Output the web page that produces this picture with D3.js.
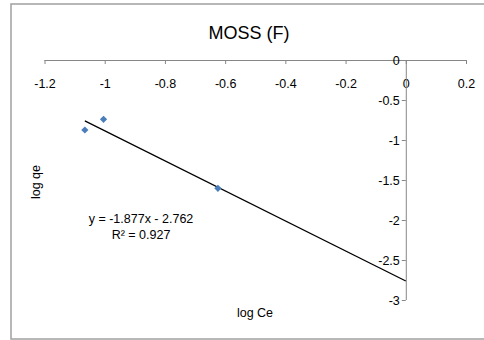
<!DOCTYPE html>
<html>
<head>
<meta charset="utf-8">
<script src="https://cdn.jsdelivr.net/npm/d3@7"></script>
<style>
  body { margin: 0; background: #fff; }
  svg { display: block; font-family: "Liberation Sans", Arial, sans-serif; }
  .axis path, .axis line { stroke: #868686; }
  .axis text { fill: #000; font-size: 12.5px; }
</style>
</head>
<body>
<script>
// log Ce / log qe points
const logCe = [-1.066, -1.004, -0.624];
const logQe = [-0.875, -0.741, -1.604];

// axis ticks
const xTicks = [-1.2, -1, -0.8, -0.6, -0.4, -0.2, 0, 0.2];
const yTicks = [0, -0.5, -1, -1.5, -2, -2.5, -3];

// linear trendline from the chart
const slope = -1.877, intercept = -2.762, r2 = 0.927;
const trendEnd = 0;

const width = 484, height = 340;

const svg = d3.select("body").append("svg")
    .attr("width", width)
    .attr("height", height);

// chart border
svg.append("rect")
    .attr("x", 11).attr("y", 4)
    .attr("width", 520).attr("height", 335)
    .attr("fill", "#fff")
    .attr("stroke", "#a0a0a0")
    .attr("stroke-width", 1.5);

// scales
const x = d3.scaleLinear().domain([-1.2, 0.2]).range([44.5, 466]);
const y = d3.scaleLinear().domain([0, -3]).range([60, 300]);

const fmt = d => String(d);

// x axis sits at the top (y = 0)
const xAxis = d3.axisBottom(x)
    .tickValues(xTicks)
    .tickFormat(fmt)
    .tickSize(4)
    .tickPadding(15);
svg.append("g")
    .attr("class", "axis")
    .attr("transform", "translate(0," + y(0) + ")")
    .call(xAxis)
    .call(g => g.select(".domain").attr("d", "M" + x(-1.2) + ",0.5H" + x(0.2)));

// y axis at x = 0
const yAxis = d3.axisLeft(y)
    .tickValues(yTicks)
    .tickFormat(fmt)
    .tickSize(4)
    .tickPadding(2);
svg.append("g")
    .attr("class", "axis")
    .attr("transform", "translate(" + x(0) + ",0)")
    .call(yAxis)
    .call(g => g.select(".domain").attr("d", "M0.5," + y(0) + "V" + y(-3)));

// trendline
const x0 = d3.min(logCe);
svg.append("line")
    .attr("x1", x(x0)).attr("y1", y(slope * x0 + intercept))
    .attr("x2", x(trendEnd)).attr("y2", y(slope * trendEnd + intercept))
    .attr("stroke", "#000")
    .attr("stroke-width", 1.3);

// points (diamonds)
const pts = logCe.map((v, i) => [v, logQe[i]]);
svg.selectAll(".pt")
    .data(pts)
    .enter()
    .append("path")
    .attr("class", "pt")
    .attr("d", d3.symbol().type(d3.symbolSquare).size(26))
    .attr("transform", d => "translate(" + x(d[0]) + "," + y(d[1]) + ") rotate(45)")
    .attr("fill", "#4a7ebb");

// title
svg.append("text")
    .attr("x", 249).attr("y", 39)
    .attr("text-anchor", "middle")
    .attr("font-size", 18)
    .text("MOSS (F)");

// equation
svg.append("text")
    .attr("x", 141).attr("y", 222.5)
    .attr("text-anchor", "middle")
    .attr("font-size", 12.5)
    .text("y = -" + Math.abs(slope) + "x  - " + Math.abs(intercept));
svg.append("text")
    .attr("x", 141).attr("y", 238.5)
    .attr("text-anchor", "middle")
    .attr("font-size", 12.5)
    .text("R² = " + r2);

// axis titles
svg.append("text")
    .attr("x", 255).attr("y", 317)
    .attr("text-anchor", "middle")
    .attr("font-size", 12.5)
    .text("log Ce");
svg.append("text")
    .attr("transform", "translate(40,182) rotate(-90)")
    .attr("text-anchor", "middle")
    .attr("font-size", 12.5)
    .text("log qe");
</script>
</body>
</html>
